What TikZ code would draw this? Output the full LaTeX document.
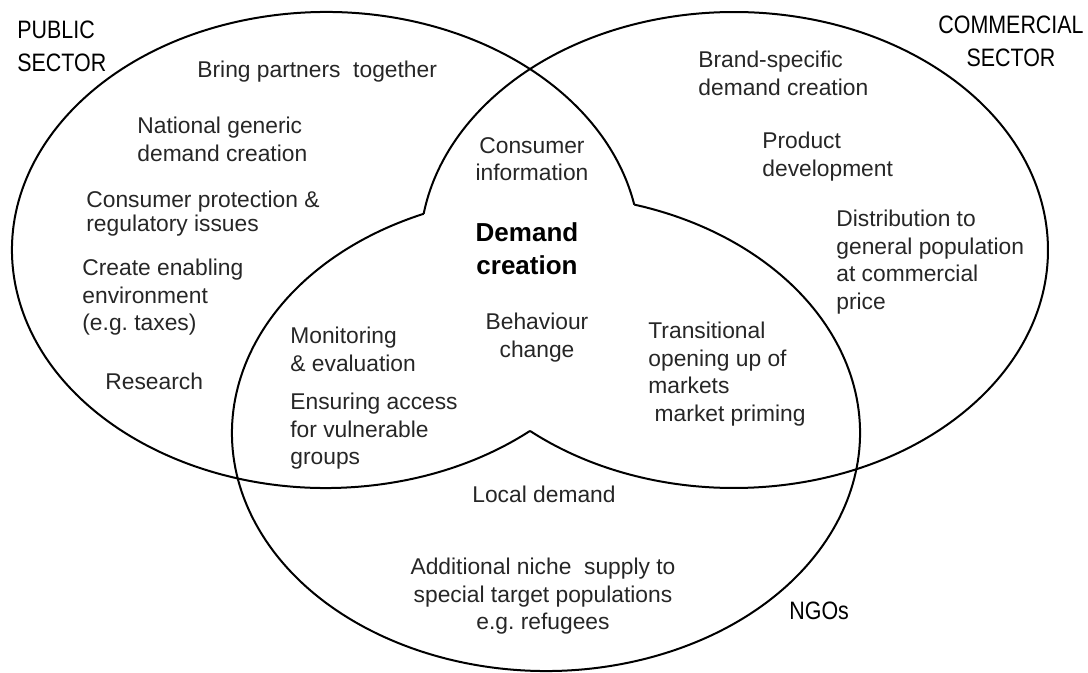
\documentclass[tikz,border=0pt]{standalone}
\usepackage{fontspec}
\setmainfont{Liberation Sans}
\newfontfamily\narrowsf[FakeStretch=0.85]{Liberation Sans}
\newcommand{\bodytext}{\frenchspacing\fontsize{11.4}{13.75}\selectfont}
\newcommand{\sectext}{\narrowsf\fontsize{12.6}{16.2}\selectfont}
\tikzset{
  venn/.style={line width=1pt},
  lbl/.style={font=\bodytext,text=black!85,inner sep=0pt,align=left,anchor=north west},
  clbl/.style={lbl,align=center,anchor=north},
  sector/.style={font=\sectext,inner sep=0pt},
}

\begin{document}
\begin{tikzpicture}[x=0.5pt,y=0.5pt]
  \useasboundingbox (0,0) rectangle (1088,-673);
  % centres of the three sets
  \coordinate (pub) at (326,-250);
  \coordinate (com) at (734,-250);
  \coordinate (ngo) at (546,-433);
  % outlines, leaving out the arcs round the common core
  \draw[venn] (pub) ++(11.0:314 and 238)
    arc[start angle=11.0,end angle=310.52,x radius=314,y radius=238];
  \draw[venn] (com) ++(229.48:314 and 238)
    arc[start angle=229.48,end angle=531.26,x radius=314,y radius=238];
  \draw[venn] (ngo) ++(112.93:314 and 238)
    arc[start angle=112.93,end angle=433.68,x radius=314,y radius=238];
  % set names
  \node[sector,align=left,anchor=north west] (pubsec) at (17,-21) {PUBLIC\\SECTOR};
  \node[sector,align=center,anchor=north] (comsec) at (1011,-16) {COMMERCIAL\\SECTOR};
  \node[sector,anchor=north west] (ngosec) at (789,-602) {NGOs};
  % public sector
  \node[lbl] (bring) at (197,-61) {Bring partners\ \ together};
  \node[lbl] (natgen) at (137,-117) {National generic\\demand creation};
  \node[lbl,font=\frenchspacing\fontsize{11.4}{12}\selectfont] (protect) at (86,-191) {Consumer protection \&\\regulatory issues};
  \node[lbl] (enabling) at (82,-259) {Create enabling\\environment\\(e.g. taxes)};
  \node[lbl] (research) at (105,-373) {Research};
  % overlaps and core
  \node[lbl] (monitor) at (290,-327) {Monitoring\\\& evaluation};
  \node[lbl] (access) at (290,-393) {Ensuring access\\for vulnerable\\groups};
  \node[clbl] (info) at (532,-137) {Consumer\\information};
  \node[clbl,font=\bfseries\fontsize{13}{16.75}\selectfont,text=black] (core) at (527,-222) {Demand\\creation};
  \node[clbl] (behav) at (537,-313) {Behaviour\\change};
  \node[lbl] (trans) at (648,-322) {Transitional\\opening up of\\markets\\\ market priming};
  % commercial sector
  \node[lbl] (brand) at (698,-51) {Brand-specific\\demand creation};
  \node[lbl] (product) at (762,-132) {Product\\development};
  \node[lbl] (distrib) at (836,-210) {Distribution to\\general population\\at commercial\\price};
  % NGOs
  \node[clbl] (local) at (544,-486) {Local demand};
  \node[clbl] (niche) at (543,-558) {Additional niche\ \ supply to\\special target populations\\e.g. refugees};
\end{tikzpicture}
\end{document}
